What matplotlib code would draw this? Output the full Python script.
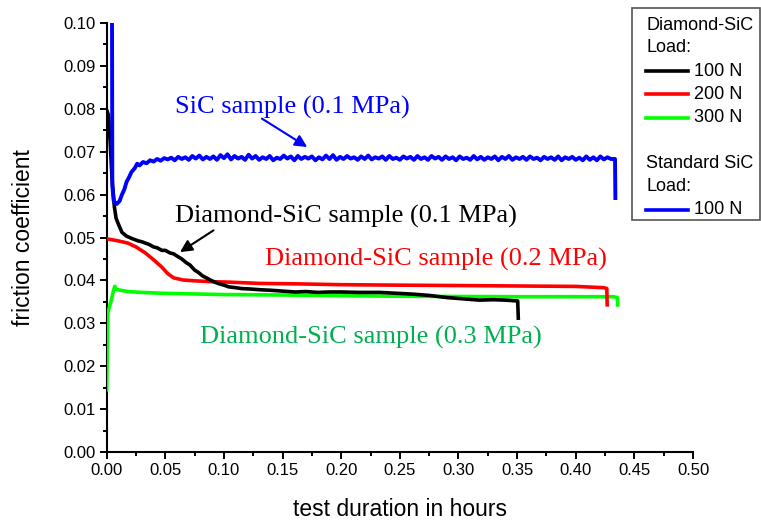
import matplotlib
matplotlib.use("Agg")
import matplotlib.pyplot as plt
from matplotlib.lines import Line2D
from matplotlib.patches import Rectangle
from matplotlib.ticker import MultipleLocator, FormatStrFormatter

# ---------------- data ----------------
blue_x = [0.0045, 0.0048, 0.006, 0.0085, 0.011, 0.013, 0.015, 0.017, 0.019, 0.021,
          0.024, 0.026, 0.028, 0.031, 0.034, 0.037, 0.040, 0.043, 0.046, 0.049,
          0.052, 0.055, 0.058, 0.061, 0.064, 0.067, 0.070, 0.073, 0.076, 0.079,
          0.082, 0.085, 0.088, 0.091, 0.094, 0.097, 0.100, 0.103, 0.106, 0.109,
          0.112, 0.115, 0.118, 0.121, 0.124, 0.127, 0.130, 0.133, 0.136, 0.139,
          0.142, 0.145, 0.148, 0.151, 0.154, 0.157, 0.160, 0.163, 0.166, 0.169,
          0.172, 0.175, 0.178, 0.181, 0.184, 0.187, 0.190, 0.193, 0.196, 0.199,
          0.202, 0.205, 0.208, 0.211, 0.214, 0.217, 0.220, 0.223, 0.226, 0.229,
          0.232, 0.235, 0.238, 0.241, 0.244, 0.247, 0.250, 0.253, 0.256, 0.259,
          0.262, 0.265, 0.268, 0.271, 0.274, 0.277, 0.280, 0.283, 0.286, 0.289,
          0.292, 0.295, 0.298, 0.301, 0.304, 0.307, 0.310, 0.313, 0.316, 0.319,
          0.322, 0.325, 0.328, 0.331, 0.334, 0.337, 0.340, 0.343, 0.346, 0.349,
          0.352, 0.355, 0.358, 0.361, 0.364, 0.367, 0.370, 0.373, 0.376, 0.379,
          0.382, 0.385, 0.388, 0.391, 0.394, 0.397, 0.400, 0.403, 0.406, 0.409,
          0.412, 0.415, 0.418, 0.421, 0.424, 0.427, 0.430, 0.4335, 0.4338]
blue_y = [0.1050, 0.0620, 0.0585, 0.0578, 0.0585, 0.0600, 0.0612, 0.0630, 0.0640, 0.0652,
          0.0662, 0.0672, 0.0668, 0.0676, 0.0673, 0.0680, 0.0677, 0.0683, 0.0679, 0.0685,
          0.0682, 0.0686, 0.0680, 0.0688, 0.0683, 0.0687, 0.0681, 0.0690, 0.0684, 0.0691,
          0.0682, 0.0688, 0.0683, 0.0689, 0.0681, 0.0692, 0.0685, 0.0694, 0.0682, 0.0690,
          0.0684, 0.0688, 0.0681, 0.0693, 0.0684, 0.0690, 0.0681, 0.0687, 0.0683, 0.0690,
          0.0680, 0.0686, 0.0683, 0.0691, 0.0684, 0.0689, 0.0680, 0.0690, 0.0683, 0.0688,
          0.0684, 0.0689, 0.0680, 0.0687, 0.0682, 0.0691, 0.0683, 0.0692, 0.0681, 0.0688,
          0.0683, 0.0690, 0.0684, 0.0687, 0.0681, 0.0689, 0.0683, 0.0691, 0.0682, 0.0687,
          0.0684, 0.0689, 0.0681, 0.0690, 0.0683, 0.0686, 0.0681, 0.0689, 0.0684, 0.0688,
          0.0681, 0.0690, 0.0683, 0.0687, 0.0681, 0.0690, 0.0684, 0.0688, 0.0681, 0.0689,
          0.0683, 0.0687, 0.0680, 0.0689, 0.0683, 0.0686, 0.0681, 0.0690, 0.0682, 0.0688,
          0.0681, 0.0687, 0.0683, 0.0689, 0.0680, 0.0688, 0.0683, 0.0690, 0.0681, 0.0687,
          0.0683, 0.0688, 0.0681, 0.0689, 0.0683, 0.0686, 0.0680, 0.0688, 0.0683, 0.0687,
          0.0681, 0.0689, 0.0680, 0.0687, 0.0683, 0.0688, 0.0681, 0.0686, 0.0680, 0.0689,
          0.0681, 0.0687, 0.0680, 0.0689, 0.0682, 0.0687, 0.0683, 0.0683, 0.0592]

black_x = [0.000, 0.0015, 0.003, 0.0045, 0.0065, 0.008, 0.0097, 0.013, 0.017, 0.022,
           0.027, 0.030, 0.033, 0.036, 0.040, 0.043, 0.047, 0.050, 0.054, 0.057,
           0.061, 0.064, 0.068, 0.071, 0.075, 0.078, 0.082, 0.085, 0.089, 0.093,
           0.096, 0.100, 0.104, 0.110, 0.115, 0.122, 0.132, 0.140, 0.150, 0.161,
           0.170, 0.180, 0.190, 0.200, 0.215, 0.233, 0.247, 0.261, 0.275, 0.290,
           0.304, 0.318, 0.330, 0.340, 0.3505, 0.3510]
black_y = [0.0797, 0.0785, 0.0720, 0.0640, 0.0572, 0.0545, 0.0533, 0.0512, 0.0503, 0.0497,
           0.0492, 0.0490, 0.0487, 0.0484, 0.0478, 0.0476, 0.0470, 0.0470, 0.0464, 0.0462,
           0.0455, 0.0450, 0.0441, 0.0436, 0.0424, 0.0419, 0.0410, 0.0406, 0.0400, 0.0395,
           0.0392, 0.0389, 0.0385, 0.0383, 0.0381, 0.0380, 0.0378, 0.0377, 0.0375, 0.0373,
           0.0374, 0.0372, 0.0373, 0.0373, 0.0372, 0.0372, 0.0370, 0.0368, 0.0365, 0.0360,
           0.0357, 0.0354, 0.0355, 0.0354, 0.0352, 0.0312]

red_x = [0.000, 0.010, 0.018, 0.025, 0.033, 0.040, 0.047, 0.052, 0.057, 0.065,
         0.075, 0.090, 0.104, 0.130, 0.161, 0.200, 0.246, 0.300, 0.350, 0.400,
         0.424, 0.4265, 0.4268]
red_y = [0.0497, 0.0492, 0.0487, 0.0478, 0.0464, 0.0448, 0.0431, 0.0416, 0.0406, 0.0401,
         0.0399, 0.0397, 0.0396, 0.0393, 0.0392, 0.0390, 0.0389, 0.0388, 0.0387, 0.0386,
         0.0383, 0.0381, 0.0343]

green_x = [0.000, 0.0005, 0.001, 0.002, 0.004, 0.006, 0.0068, 0.008, 0.010, 0.018,
           0.030, 0.047, 0.100, 0.150, 0.250, 0.350, 0.432, 0.4355, 0.4358]
green_y = [0.0145, 0.0240, 0.0324, 0.0335, 0.0355, 0.0378, 0.0386, 0.0380, 0.0378, 0.0374,
           0.0372, 0.0370, 0.0367, 0.0366, 0.0363, 0.0362, 0.0362, 0.0360, 0.0343]

x_ticks = [0.00, 0.05, 0.10, 0.15, 0.20, 0.25, 0.30, 0.35, 0.40, 0.45, 0.50]
y_ticks = [0.00, 0.01, 0.02, 0.03, 0.04, 0.05, 0.06, 0.07, 0.08, 0.09, 0.10]

legend_groups = [("Diamond-SiC", "Load:", [("100 N", "#000000"), ("200 N", "#ff0000"), ("300 N", "#00ff00")]),
                 ("Standard SiC", "Load:", [("100 N", "#0000ff")])]

# ---------------- figure ----------------
W, H = 761, 520
fig = plt.figure(figsize=(W / 100, H / 100), dpi=100)
ax = fig.add_axes([106.7 / W, 1 - 452 / H, (693 - 106.7) / W, (452 - 23) / H])

sans = "Liberation Sans"
serif = "Liberation Serif"

ax.plot(green_x, green_y, color="#00ff00", lw=2.6, solid_joinstyle="round", zorder=3)
ax.plot(red_x, red_y, color="#ff0000", lw=2.6, solid_joinstyle="round", zorder=3)
ax.plot(black_x, black_y, color="#000000", lw=2.6, solid_joinstyle="round", zorder=4)
ax.plot(blue_x, blue_y, color="#0000ff", lw=2.8, solid_joinstyle="round", zorder=5)

ax.set_xlim(0, 0.5)
ax.set_ylim(0, 0.1)
ax.set_xticks(x_ticks)
ax.set_yticks(y_ticks)
ax.xaxis.set_minor_locator(MultipleLocator(0.025))
ax.yaxis.set_minor_locator(MultipleLocator(0.005))
ax.xaxis.set_major_formatter(FormatStrFormatter("%.2f"))
ax.yaxis.set_major_formatter(FormatStrFormatter("%.2f"))
ax.tick_params(which="major", direction="out", length=5, width=1.4, labelsize=12, pad=3)
ax.tick_params(which="minor", direction="out", length=3, width=1.4)
for lab in ax.get_xticklabels() + ax.get_yticklabels():
    lab.set_fontfamily(sans)
for s in ["top", "right"]:
    ax.spines[s].set_visible(False)
for s in ["left", "bottom"]:
    ax.spines[s].set_linewidth(1.5)

ax.set_xlabel("test duration in hours", fontsize=16.5, family=sans, labelpad=14)
ax.set_ylabel("friction coefficient", fontsize=16.5, family=sans, labelpad=20)

# annotations
ax.annotate("SiC sample (0.1 MPa)", xy=(0.171, 0.0711), xytext=(0.0583, 0.0804),
            color="#0000ff", fontsize=19, family=serif, va="center", ha="left",
            arrowprops=dict(arrowstyle="-|>", color="#0000ff", lw=1.5, mutation_scale=18,
                            shrinkA=0, shrinkB=0, patchA=None, relpos=(0.37, 0.0)))
ax.annotate("Diamond-SiC sample (0.1 MPa)", xy=(0.0625, 0.0466), xytext=(0.0583, 0.0550),
            color="#000000", fontsize=19, family=serif, va="center", ha="left",
            arrowprops=dict(arrowstyle="-|>", color="#000000", lw=1.5, mutation_scale=18,
                            shrinkA=0, shrinkB=0, relpos=(0.125, 0.0)))
ax.text(0.135, 0.0448, "Diamond-SiC sample (0.2 MPa)", color="#ff0000", fontsize=19,
        family=serif, va="center", ha="left")
ax.text(0.0796, 0.0266, "Diamond-SiC sample (0.3 MPa)", color="#00b050", fontsize=19,
        family=serif, va="center", ha="left")

# legend (drawn in figure pixels)
def fx(px):
    return px / W

def fy(py):
    return 1 - py / H

box = Rectangle((fx(632), fy(220)), fx(760) - fx(632), fy(8) - fy(220), transform=fig.transFigure,
                facecolor="white", edgecolor="#555555", lw=1.2, zorder=10)
fig.patches.append(box)
row = 25
for title, sub, entries in legend_groups:
    fig.text(fx(646), fy(row), title, fontsize=13, family=sans, va="center", ha="left", zorder=11)
    row += 23
    fig.text(fx(646), fy(row), sub, fontsize=13, family=sans, va="center", ha="left", zorder=11)
    row += 23
    for lab, col in entries:
        fig.lines.append(Line2D([fx(646), fx(688)], [fy(row), fy(row)], color=col, lw=2.6,
                                transform=fig.transFigure, zorder=11))
        fig.text(fx(694), fy(row), lab, fontsize=13, family=sans, va="center", ha="left", zorder=11)
        row += 23.3
    row += 23

fig.savefig("out.png", dpi=100)
